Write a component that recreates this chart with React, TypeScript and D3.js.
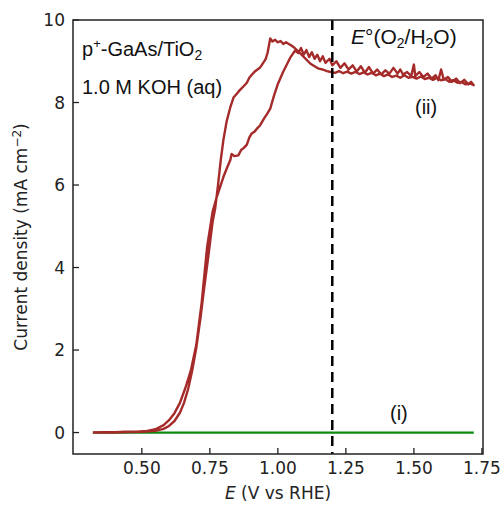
import * as d3 from "d3";

// potential (V vs RHE) and current density (mA cm^-2), forward sweep
const fwdV = [0.32, 0.36, 0.4, 0.44, 0.48, 0.52, 0.55, 0.58, 0.6, 0.62, 0.64, 0.66, 0.68, 0.7, 0.72, 0.74, 0.76, 0.775, 0.79, 0.8, 0.815, 0.825, 0.83, 0.84, 0.855, 0.865, 0.875, 0.886, 0.895, 0.904, 0.915, 0.925, 0.935, 0.95, 0.96, 0.972, 0.985, 1.0, 1.01, 1.02, 1.033, 1.045, 1.055, 1.064, 1.075, 1.085, 1.095, 1.105, 1.115, 1.125, 1.135, 1.145, 1.155, 1.165, 1.175, 1.19, 1.2, 1.215, 1.23, 1.245, 1.26, 1.275, 1.29, 1.305, 1.32, 1.335, 1.35, 1.365, 1.38, 1.395, 1.41, 1.425, 1.44, 1.45, 1.46, 1.475, 1.49, 1.5, 1.505, 1.52, 1.535, 1.55, 1.565, 1.58, 1.59, 1.6, 1.61, 1.625, 1.64, 1.655, 1.67, 1.685, 1.7, 1.71, 1.72];
const fwdJ = [0.0, 0.01, 0.01, 0.02, 0.02, 0.04, 0.08, 0.18, 0.3, 0.47, 0.72, 1.08, 1.5, 2.12, 3.15, 4.5, 5.35, 5.7, 6.0, 6.2, 6.45, 6.6, 6.75, 6.7, 6.72, 6.85, 6.9, 6.98, 7.15, 7.25, 7.3, 7.38, 7.45, 7.62, 7.72, 7.85, 8.15, 8.45, 8.6, 8.75, 8.92, 9.08, 9.18, 9.26, 9.2, 9.32, 9.16, 9.27, 9.1, 9.22, 9.06, 9.16, 9.0, 9.12, 8.96, 9.06, 8.9, 9.0, 8.84, 8.95, 8.8, 8.9, 8.75, 8.88, 8.72, 8.86, 8.7, 8.8, 8.68, 8.78, 8.7, 8.84, 8.7, 8.8, 8.68, 8.74, 8.64, 8.92, 8.64, 8.74, 8.62, 8.7, 8.58, 8.66, 8.54, 8.8, 8.55, 8.62, 8.5, 8.58, 8.47, 8.55, 8.44, 8.5, 8.42];

// reverse sweep
const revV = [1.72, 1.705, 1.69, 1.675, 1.66, 1.645, 1.63, 1.615, 1.6, 1.585, 1.57, 1.555, 1.54, 1.525, 1.51, 1.495, 1.48, 1.465, 1.45, 1.435, 1.42, 1.405, 1.39, 1.375, 1.36, 1.345, 1.33, 1.315, 1.3, 1.285, 1.27, 1.255, 1.24, 1.225, 1.21, 1.195, 1.18, 1.165, 1.15, 1.135, 1.12, 1.105, 1.09, 1.075, 1.062, 1.05, 1.04, 1.03, 1.02, 1.01, 1.0, 0.99, 0.98, 0.972, 0.962, 0.955, 0.945, 0.935, 0.925, 0.915, 0.905, 0.895, 0.886, 0.875, 0.86, 0.85, 0.837, 0.825, 0.812, 0.8, 0.79, 0.78, 0.77, 0.76, 0.745, 0.73, 0.715, 0.7, 0.685, 0.67, 0.655, 0.64, 0.62, 0.6, 0.58, 0.55, 0.5, 0.45, 0.4, 0.35, 0.32];
const revJ = [8.42, 8.47, 8.44, 8.5, 8.48, 8.54, 8.5, 8.57, 8.54, 8.6, 8.55, 8.6, 8.57, 8.63, 8.58, 8.62, 8.6, 8.66, 8.6, 8.65, 8.62, 8.68, 8.64, 8.7, 8.66, 8.72, 8.68, 8.73, 8.69, 8.74, 8.7, 8.75, 8.71, 8.76, 8.72, 8.74, 8.76, 8.8, 8.82, 8.88, 8.94, 9.04, 9.14, 9.24, 9.32, 9.38, 9.42, 9.46, 9.42, 9.49, 9.46, 9.52, 9.48, 9.55, 9.2, 9.05, 8.95, 8.85, 8.8, 8.75, 8.68, 8.6, 8.48, 8.4, 8.3, 8.22, 8.12, 7.88, 7.55, 7.1, 6.6, 6.0, 5.45, 5.1, 4.3, 3.55, 2.75, 2.05, 1.5, 1.05, 0.72, 0.48, 0.28, 0.16, 0.09, 0.04, 0.02, 0.01, 0.0, 0.0, 0.0];

// bare electrode (i)
const bareV = [0.32, 0.6, 0.9, 1.2, 1.5, 1.72];
const bareJ = [0, 0, 0, 0, 0, 0];

const xTicks = [0.5, 0.75, 1.0, 1.25, 1.5, 1.75];
const yTicks = [0, 2, 4, 6, 8, 10];
const eO2 = 1.2;

const W = 504;
const H = 505;
const m = { left: 73, right: 21, top: 20, bottom: 51 };

export default function App() {
  const x = d3.scaleLinear().domain([0.247, 1.754]).range([m.left, W - m.right]);
  const y = d3.scaleLinear().domain([-0.52, 10]).range([H - m.bottom, m.top]);
  const line = d3
    .line<[number, number]>()
    .x((d) => x(d[0]))
    .y((d) => y(d[1]));

  const red: [number, number][] = [
    ...fwdV.map((v, i) => [v, fwdJ[i]] as [number, number]),
    ...revV.map((v, i) => [v, revJ[i]] as [number, number]),
  ];
  const green = bareV.map((v, i) => [v, bareJ[i]] as [number, number]);

  const tickFont = "'DejaVu Sans', sans-serif";
  const annFont = "'Liberation Sans', Arial, sans-serif";
  const axisColor = "#222";

  return (
    <svg
      width={W}
      height={H}
      style={{ position: "absolute", left: 0, top: 0, background: "#fff" }}
    >
      <path d={line(green) ?? ""} fill="none" stroke="#0b8a0b" strokeWidth={2.2} />
      <path d={line(red) ?? ""} fill="none" stroke="#a52a2a" strokeWidth={2.4} strokeLinejoin="round" />
      <line
        x1={x(eO2)}
        x2={x(eO2)}
        y1={y.range()[1]}
        y2={y.range()[0]}
        stroke="#000"
        strokeWidth={2.5}
        strokeDasharray="10,6"
      />
      <rect
        x={m.left}
        y={m.top}
        width={W - m.left - m.right}
        height={H - m.top - m.bottom}
        fill="none"
        stroke={axisColor}
        strokeWidth={1.5}
      />
      {xTicks.map((t) => (
        <g key={t}>
          <line x1={x(t)} x2={x(t)} y1={H - m.bottom} y2={H - m.bottom - 6} stroke={axisColor} strokeWidth={1.3} />
          <text x={x(t)} y={474} textAnchor="middle" fontFamily={tickFont} fontSize={17} fill="#222">
            {t.toFixed(2)}
          </text>
        </g>
      ))}
      {yTicks.map((t) => (
        <g key={t}>
          <line x1={m.left} x2={m.left + 6} y1={y(t)} y2={y(t)} stroke={axisColor} strokeWidth={1.3} />
          <text x={65} y={y(t)} dy="0.36em" textAnchor="end" fontFamily={tickFont} fontSize={17} fill="#222">
            {t}
          </text>
        </g>
      ))}
      <text x={(m.left + W - m.right) / 2} y={499} textAnchor="middle" fontFamily={tickFont} fontSize={17} fill="#222">
        <tspan fontStyle="italic">E</tspan> (V vs RHE)
      </text>
      <text
        transform={`translate(27,${(m.top + H - m.bottom) / 2}) rotate(-90)`}
        textAnchor="middle"
        fontFamily={tickFont}
        fontSize={17}
        fill="#222"
      >
        Current density (mA cm
        <tspan fontSize={12} dy={-6}>−2</tspan>
        <tspan dy={6}>)</tspan>
      </text>
      <text x={82} y={56} fontFamily={annFont} fontSize={20} fill="#111">
        p<tspan fontSize={13} dy={-8}>+</tspan>
        <tspan dy={8}>-GaAs/TiO</tspan>
        <tspan fontSize={14} dy={4}>2</tspan>
      </text>
      <text x={82} y={94} fontFamily={annFont} fontSize={20} fill="#111">
        1.0 M KOH (aq)
      </text>
      <text x={351} y={44} fontFamily={annFont} fontSize={21} fill="#111">
        <tspan fontStyle="italic">E</tspan>°(O<tspan fontSize={14} dy={4}>2</tspan>
        <tspan dy={-4}>/H</tspan>
        <tspan fontSize={14} dy={4}>2</tspan>
        <tspan dy={-4}>O)</tspan>
      </text>
      <text x={415} y={114} fontFamily={annFont} fontSize={20} fill="#111">
        (ii)
      </text>
      <text x={390} y={420} fontFamily={annFont} fontSize={20} fill="#111">
        (i)
      </text>
    </svg>
  );
}
